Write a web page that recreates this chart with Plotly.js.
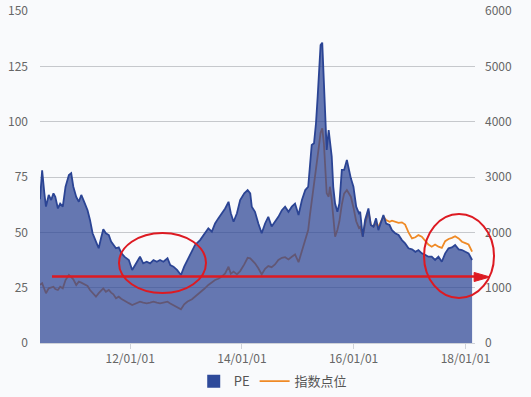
<!DOCTYPE html>
<html>
<head>
<meta charset="utf-8">
<script src="https://cdn.plot.ly/plotly-3.0.1.min.js"></script>
<style>
html,body{margin:0;padding:0;background:#f9fafc;}
#chart{width:531px;height:397px;}
</style>
</head>
<body>
<div id="chart"></div>
<script>
var dates = ["2010-05-21","2010-06-04","2010-06-18","2010-06-29","2010-07-17","2010-08-02","2010-08-17","2010-08-29","2010-09-15","2010-09-30",
"2010-10-17","2010-11-04","2010-11-26","2010-12-11","2010-12-25","2011-01-13","2011-01-30","2011-02-15","2011-03-06","2011-03-28",
"2011-04-13","2011-04-30","2011-05-22","2011-06-09","2011-06-24","2011-07-09","2011-07-26","2011-08-14","2011-08-29","2011-09-13",
"2011-09-30","2011-10-18","2011-11-03","2011-11-24","2011-12-23","2012-01-14","2012-02-09","2012-03-05","2012-03-26","2012-04-18",
"2012-05-10","2012-06-01","2012-06-23","2012-07-14","2012-08-05","2012-09-01","2012-09-19","2012-10-10","2012-11-02","2012-11-28",
"2012-12-19","2013-01-10","2013-02-08","2013-02-28","2013-04-02","2013-04-28","2013-05-26","2013-06-18","2013-07-09","2013-07-30",
"2013-08-22","2013-09-13","2013-10-05","2013-10-20","2013-11-07","2013-11-29","2013-12-20","2014-01-16","2014-02-07","2014-02-24",
"2014-03-06","2014-03-27","2014-04-18","2014-05-10","2014-06-01","2014-06-22","2014-07-14","2014-08-05","2014-08-27","2014-09-19",
"2014-10-10","2014-11-01","2014-11-23","2014-12-14","2015-01-06","2015-01-28","2015-02-19","2015-03-10","2015-03-21","2015-04-02",
"2015-04-17","2015-04-30","2015-05-11","2015-05-19","2015-05-30","2015-06-10","2015-06-21","2015-06-30","2015-07-09","2015-07-22",
"2015-07-30","2015-08-11","2015-08-21","2015-09-02","2015-09-17","2015-09-30","2015-10-16","2015-10-31","2015-11-18","2015-12-01",
"2015-12-14","2015-12-31","2016-01-18","2016-02-05","2016-02-13","2016-03-01","2016-03-16","2016-04-07","2016-04-23","2016-05-10",
"2016-05-27","2016-06-11","2016-06-27","2016-07-14","2016-08-01","2016-08-23","2016-09-08","2016-09-29","2016-10-21","2016-11-12",
"2016-12-03","2016-12-25","2017-01-17","2017-02-08","2017-02-28","2017-03-22","2017-04-13","2017-05-04","2017-05-26","2017-06-17",
"2017-07-09","2017-07-31","2017-08-22","2017-09-13","2017-10-05","2017-10-26","2017-11-18","2017-12-10","2018-01-01","2018-01-22",
"2018-02-14"];

var pe = [65,78,68,61.6,66.9,64.6,67.6,66,60.8,63,
61.6,70.6,75.9,76.7,70.6,66,63.8,66.9,63.8,60,
55.6,49.6,45.8,42.8,47.3,51.4,49.6,48.8,45.8,44.3,
42.8,43.2,40.8,39,37.5,33,36,39,36,36.7,
36,37.5,36.7,37.5,36.7,38.3,35.2,34.5,33,30.7,
34.5,37.5,41.2,44.3,46.5,48.8,51.8,50.3,54,56.3,
58.6,60.8,63.8,58.6,54.8,58.6,64.6,67.6,69.1,67.6,
61.6,59.3,54,49.6,54,57,52.6,54.8,57,60,
61.6,59.3,61.6,63,57.8,64.6,69.1,70.6,78.2,89.5,
90.2,99.3,111.3,121.9,134.6,135.7,118.8,97.7,87.2,96.2,
91.7,84.2,70.6,63,59.3,63,78.2,78.2,82.7,78.2,
74.4,70.6,61.6,58.6,59.3,48,55.6,60.8,53.3,52.6,
56.3,51,54.8,57.8,54,53.3,51,49.6,48.8,46.5,
45,42.8,42.3,41.2,42,40.5,39.8,39,39,37.5,
39,36.7,40.5,42.8,43.2,44.3,42.3,42,41.2,40.5,
37.5];

var indexPts = [1050,1079,980,898,988,1000,1017,975,958,1017,
988,1138,1229,1190,1150,1048,1108,1090,1065,1030,
958,898,837,900,950,988,927,958,910,880,
808,837,800,760,720,687,717,746,730,717,
730,746,730,717,730,746,715,687,656,609,
700,750,790,837,898,975,1050,1100,1138,1160,
1200,1259,1379,1250,1290,1240,1300,1420,1540,1530,
1500,1440,1350,1240,1340,1390,1370,1420,1500,1540,
1550,1510,1560,1600,1460,1680,1850,2042,2300,2550,
2800,3050,3300,3550,3800,3880,3600,3200,2705,2644,
2824,2584,2282,1921,2042,2200,2500,2700,2765,2700,
2644,2450,2200,2080,2100,1921,2150,2380,2132,2100,
2163,2102,2200,2282,2222,2192,2210,2192,2170,2180,
2140,2000,1890,1910,1950,1920,1850,1780,1740,1780,
1740,1720,1840,1880,1900,1930,1890,1830,1805,1780,
1650];

var xTicks = ["2012-01-01","2014-01-01","2016-01-01","2018-01-01"];
var peTicks = [0,25,50,75,100,125,150];
var idxTicks = [0,1000,2000,3000,4000,5000,6000];
var seriesNames = ["PE","指数点位"];
var guideLevel = 30;

var FONT = '"Noto Sans CJK SC", "Noto Sans", sans-serif';
var RED = '#dd1a22';

var traces = [
  {
    x: dates, y: indexPts, name: seriesNames[1], type: 'scatter', mode: 'lines',
    yaxis: 'y', line: {color: '#ef8a26', width: 1.8}, legendrank: 2, hoverinfo: 'skip'
  },
  {
    x: dates, y: pe, name: seriesNames[0], type: 'scatter', mode: 'lines',
    yaxis: 'y2', fill: 'tozeroy', fillcolor: 'rgba(43,68,148,0.72)',
    line: {color: '#2b4494', width: 1.8}, showlegend: false, hoverinfo: 'skip'
  },
  {
    x: [null], y: [null], name: seriesNames[0], type: 'scatter', mode: 'markers',
    yaxis: 'y2', marker: {symbol: 'square', size: 13, color: '#2e4a9a'}, legendrank: 1
  }
];

var layout = {
  width: 531, height: 397,
  margin: {l: 40, r: 56, t: 11, b: 54, pad: 0, autoexpand: false},
  paper_bgcolor: '#f9fafc', plot_bgcolor: '#f9fafc',
  font: {family: FONT, size: 12, color: '#666'},
  showlegend: true,
  legend: {orientation: 'h', x: 0.535, xanchor: 'center', y: -0.07, yanchor: 'top',
           font: {family: FONT, size: 13, color: '#555'}, traceorder: 'normal',
           itemwidth: 30, tracegroupgap: 0},
  xaxis: {
    type: 'date', range: ['2010-05-21', '2018-03-05'],
    tickvals: xTicks, tickformat: '%y/%m/%d',
    showgrid: false, zeroline: false, showline: true, linecolor: '#cfd2d8', linewidth: 1,
    ticks: 'outside', ticklen: 5, tickcolor: '#cfd2d8',
    tickfont: {family: FONT, size: 12, color: '#666'}, fixedrange: true
  },
  yaxis: {
    range: [0, 6000], tickvals: idxTicks, side: 'right',
    showgrid: true, gridcolor: '#c6c8cc', gridwidth: 1, zeroline: false,
    ticks: '', ticklabelstandoff: 9,
    tickfont: {family: FONT, size: 12, color: '#666'}, fixedrange: true
  },
  yaxis2: {
    range: [0, 150], tickvals: peTicks, side: 'left', overlaying: 'y',
    showgrid: false, zeroline: false, ticks: '', ticklabelstandoff: 11,
    tickfont: {family: FONT, size: 12, color: '#666'}, fixedrange: true
  },
  shapes: [
    {type: 'circle', xref: 'paper', yref: 'paper', x0: 0.1816, x1: 0.3816, y0: 0.1506, y1: 0.3313,
     line: {color: RED, width: 2}, fillcolor: 'rgba(0,0,0,0)', layer: 'above'},
    {type: 'circle', xref: 'paper', yref: 'paper', x0: 0.8828, x1: 1.0437, y0: 0.1355, y1: 0.3886,
     line: {color: RED, width: 2}, fillcolor: 'rgba(0,0,0,0)', layer: 'above'},
    {type: 'line', xref: 'paper', yref: 'y2', x0: 0.0276, x1: 1.0, y0: guideLevel, y1: guideLevel,
     line: {color: RED, width: 2.5}, layer: 'above'},
    {type: 'path', xref: 'paper', yref: 'paper',
     path: 'M 0.998 0.2125 L 1.0345 0.1988 L 0.998 0.1851 Z',
     fillcolor: RED, line: {color: RED, width: 1}, layer: 'above'}
  ]
};

Plotly.newPlot('chart', traces, layout, {displayModeBar: false, staticPlot: true});
</script>
</body>
</html>
